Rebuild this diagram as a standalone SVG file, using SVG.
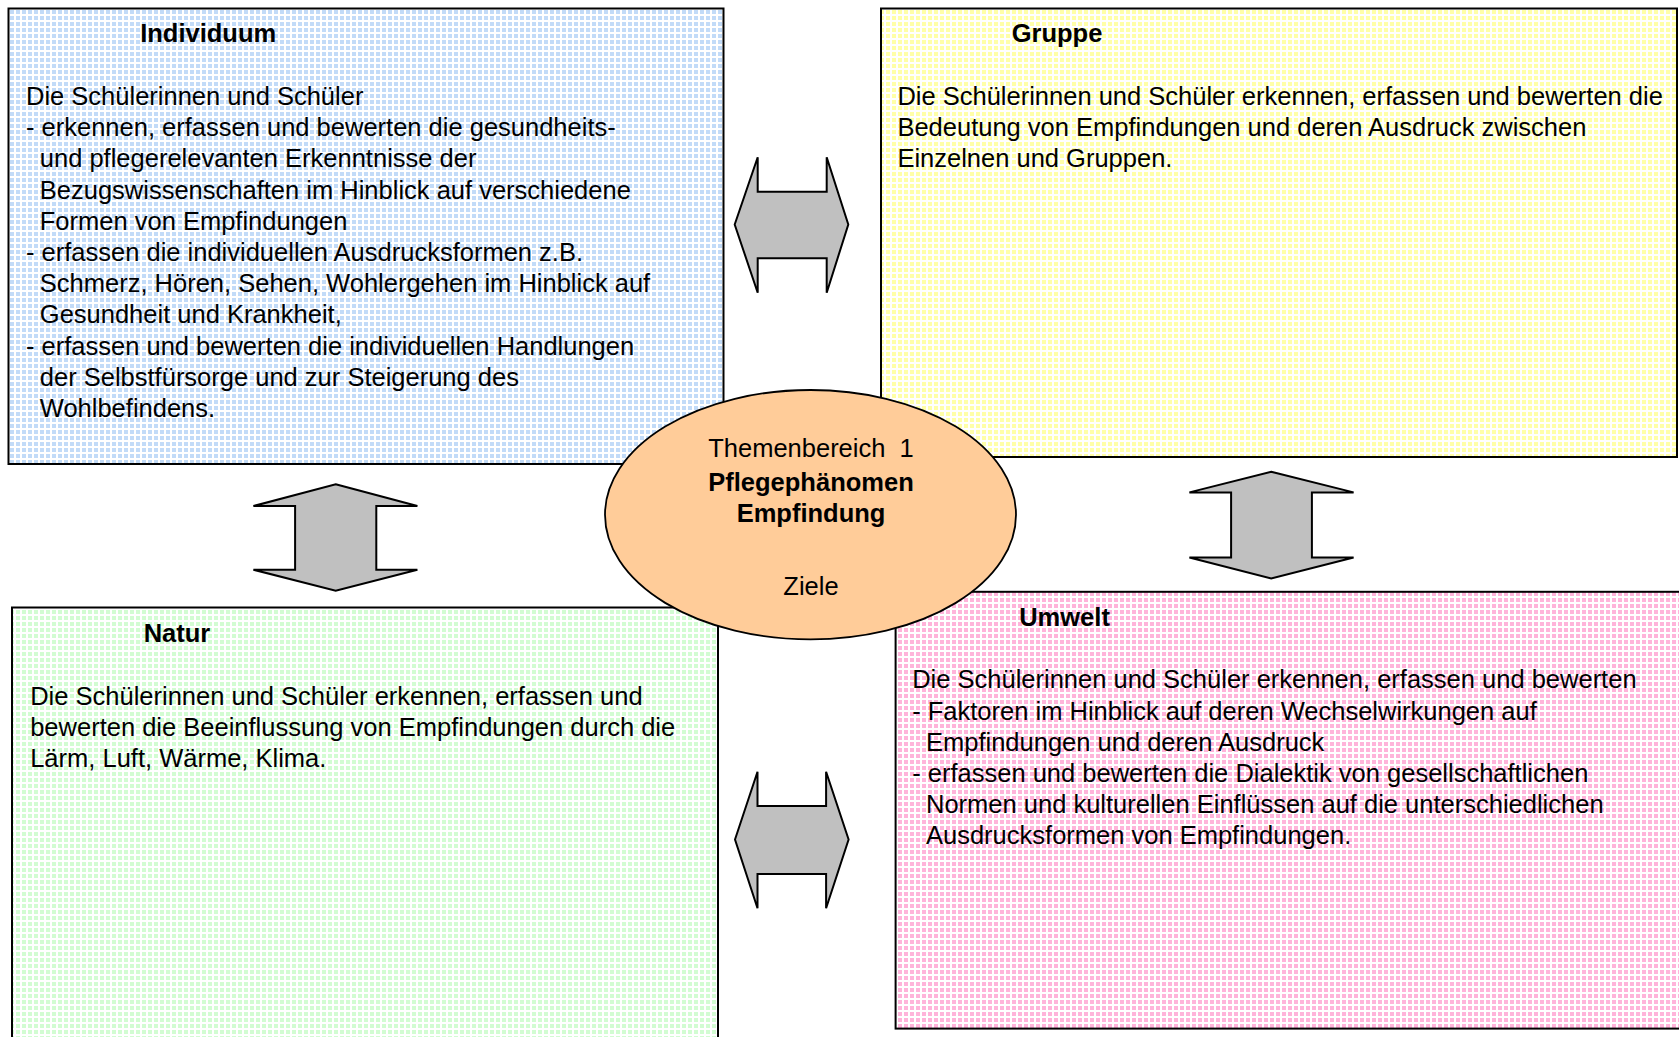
<svg xmlns="http://www.w3.org/2000/svg" width="1679" height="1037" viewBox="0 0 1679 1037">
<style>
.box{stroke:#000;stroke-width:2}
.t{font-family:"Liberation Sans",Arial,sans-serif;font-size:25.5px;fill:#000}
.b{font-weight:bold}
.arr{fill:#C0C0C0;stroke:#000;stroke-width:2;stroke-linejoin:miter}
.c{text-anchor:middle}
</style>
<defs>
<pattern id="pBlue" width="6" height="6" patternUnits="userSpaceOnUse">
<rect width="6" height="6" fill="#C2DBF8"/>
<rect x="2" y="0" width="2" height="6" fill="#fff"/><rect x="0" y="2" width="6" height="2" fill="#fff"/>
</pattern>
<pattern id="pYellow" width="6" height="6" patternUnits="userSpaceOnUse">
<rect width="6" height="6" fill="#FFFFA8"/>
<rect x="2" y="0" width="2" height="6" fill="#fff"/><rect x="0" y="2" width="6" height="2" fill="#fff"/>
</pattern>
<pattern id="pGreen" width="6" height="6" patternUnits="userSpaceOnUse">
<rect width="6" height="6" fill="#D2FCD2"/>
<rect x="2" y="0" width="2" height="6" fill="#fff"/><rect x="0" y="2" width="6" height="2" fill="#fff"/>
</pattern>
<pattern id="pPink" width="6" height="6" patternUnits="userSpaceOnUse">
<rect width="6" height="6" fill="#FFB4DA"/>
<rect x="2" y="0" width="2" height="6" fill="#fff"/><rect x="0" y="2" width="6" height="2" fill="#fff"/>
</pattern>
</defs>
<rect width="1679" height="1037" fill="#fff"/>

<g id="individuum">
<rect class="box" x="8.5" y="8.5" width="715" height="455.5" fill="url(#pBlue)"/>
<text class="t b" x="140.2" y="41.7">Individuum</text>
<text class="t" x="26" y="105">Die Schülerinnen und Schüler</text>
<text class="t" x="26" y="136.2">- erkennen, erfassen und bewerten die gesundheits-</text>
<text class="t" x="39.8" y="167.4">und pflegerelevanten Erkenntnisse der</text>
<text class="t" x="39.8" y="198.6">Bezugswissenschaften im Hinblick auf verschiedene</text>
<text class="t" x="39.8" y="229.8">Formen von Empfindungen</text>
<text class="t" x="26" y="261">- erfassen die individuellen Ausdrucksformen z.B.</text>
<text class="t" x="39.8" y="292.2">Schmerz, Hören, Sehen, Wohlergehen im Hinblick auf</text>
<text class="t" x="39.8" y="323.4">Gesundheit und Krankheit,</text>
<text class="t" x="26" y="354.6">- erfassen und bewerten die individuellen Handlungen</text>
<text class="t" x="39.8" y="385.8">der Selbstfürsorge und zur Steigerung des</text>
<text class="t" x="39.8" y="417">Wohlbefindens.</text>
</g>

<g id="gruppe">
<rect class="box" x="881" y="8.5" width="796" height="448.5" fill="url(#pYellow)"/>
<text class="t b" x="1011.7" y="41.7">Gruppe</text>
<text class="t" x="897.4" y="105">Die Schülerinnen und Schüler erkennen, erfassen und bewerten die</text>
<text class="t" x="897.4" y="136.2">Bedeutung von Empfindungen und deren Ausdruck zwischen</text>
<text class="t" x="897.4" y="167.4">Einzelnen und Gruppen.</text>
</g>

<g id="natur">
<rect class="box" x="12" y="607.5" width="706" height="440" fill="url(#pGreen)"/>
<text class="t b" x="143.7" y="642.2">Natur</text>
<text class="t" x="30.2" y="704.7">Die Schülerinnen und Schüler erkennen, erfassen und</text>
<text class="t" x="30.2" y="735.9">bewerten die Beeinflussung von Empfindungen durch die</text>
<text class="t" x="30.2" y="767.1">Lärm, Luft, Wärme, Klima.</text>
</g>

<g id="umwelt">
<rect class="box" x="895.6" y="591.8" width="800" height="436.8" fill="url(#pPink)"/>
<text class="t b" x="1019.2" y="625.6">Umwelt</text>
<text class="t" x="912.2" y="688.3">Die Schülerinnen und Schüler erkennen, erfassen und bewerten</text>
<text class="t" x="912.2" y="719.5">- Faktoren im Hinblick auf deren Wechselwirkungen auf</text>
<text class="t" x="926" y="750.7">Empfindungen und deren Ausdruck</text>
<text class="t" x="912.2" y="781.9">- erfassen und bewerten die Dialektik von gesellschaftlichen</text>
<text class="t" x="926" y="813.1">Normen und kulturellen Einflüssen auf die unterschiedlichen</text>
<text class="t" x="926" y="844.3">Ausdrucksformen von Empfindungen.</text>
</g>

<g id="connectors">
<polygon class="arr" points="734.7,224.5 757.7,157.3 757.7,191.7 826.7,191.7 826.7,157.3 848.3,224.5 826.7,292.7 826.7,258.3 757.7,258.3 757.7,292.7"/>
<polygon class="arr" points="735,839.5 757.5,771.7 757.5,806 826.1,806 826.1,771.7 848.6,839.5 826.1,908.3 826.1,874 757.5,874 757.5,908.3"/>
<polygon class="arr" points="335.7,484.3 417.4,506 376.3,506 376.3,569.7 417.4,569.7 335.7,590.7 253.4,569.7 295.1,569.7 295.1,506 253.4,506"/>
<polygon class="arr" points="1271.2,471.8 1353.6,492.4 1311.9,492.4 1311.9,557.5 1353.6,557.5 1271.2,578.5 1189.4,557.5 1231.1,557.5 1231.1,492.4 1189.4,492.4"/>
</g>

<g id="themenbereich">
<ellipse cx="810.5" cy="514.7" rx="205.5" ry="124.7" fill="#FFCC99" stroke="#000" stroke-width="1.8"/>
<text class="t c" x="811" y="456.7" xml:space="preserve">Themenbereich  1</text>
<text class="t b c" x="811" y="490.7">Pflegephänomen</text>
<text class="t b c" x="811" y="521.7">Empfindung</text>
<text class="t c" x="811" y="595">Ziele</text>
</g>
</svg>
